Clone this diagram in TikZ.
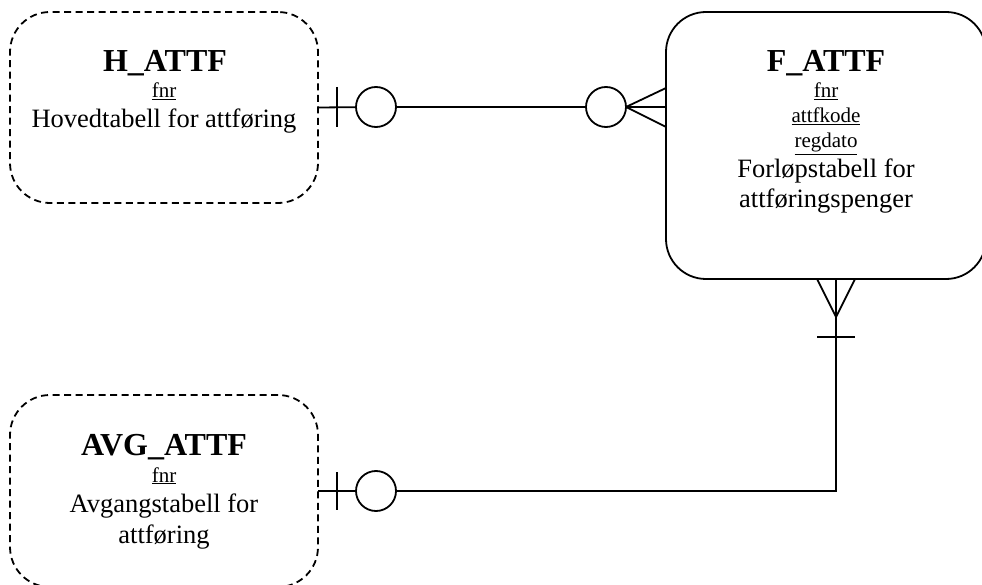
\documentclass[tikz,border=0pt]{standalone}
\usepackage{fontspec}
\setmainfont{Liberation Serif}
\begin{document}
\begin{tikzpicture}[x=1pt,y=-1pt,line width=1.8pt,
  entity/.style={draw,rectangle,rounded corners=40pt,outer sep=0pt,inner sep=0pt},
  weak/.style={entity,dash pattern=on 7pt off 4.5pt},
  circ/.style={draw,circle,minimum size=40pt,inner sep=0pt,outer sep=0pt,fill=white},
  ttl/.style={anchor=base,inner sep=0pt,font=\fontsize{32}{34}\selectfont\bfseries},
  key/.style={anchor=base,inner sep=0pt,font=\fontsize{21}{23}\selectfont},
  desc/.style={anchor=base,inner sep=0pt,font=\fontsize{26.5}{28}\selectfont}]
\useasboundingbox (0,0) rectangle (982,585);
% entities
\node[weak,minimum width=308pt,minimum height=191pt] (H) at (164,107.5) {};
\node[entity,minimum width=320pt,minimum height=267pt] (F) at (826,145.5) {};
\node[weak,minimum width=308pt,minimum height=192pt] (A) at (164,491) {};
% H_ATTF texts
\node[ttl] (Ht) at (165,72) {H\_ATTF};
\node[key] (Hk) at (164,98) {\underline{fnr}};
\node[desc] (Hd) at (164,128) {Hovedtabell for attføring};
% F_ATTF texts
\node[ttl] (Ft) at (826,72) {F\_ATTF};
\node[key] (Fk1) at (826,98) {\underline{fnr}};
\node[key] (Fk2) at (826,123) {\underline{attfkode}};
\node[key] (Fk3) at (826,148) {\underline{regdato}};
\node[desc] (Fd1) at (826,178) {Forløpstabell for};
\node[desc] (Fd2) at (826,208) {attføringspenger};
% AVG_ATTF texts
\node[ttl] (At) at (164,455) {AVG\_ATTF};
\node[key] (Ak) at (164,482) {\underline{fnr}};
\node[desc] (Ad1) at (164,512) {Avgangstabell for};
\node[desc] (Ad2) at (164,543) {attføring};
% H -- F connector
\node[circ] (c1) at (376,107) {};
\node[circ] (c2) at (606,107) {};
\draw (H.east) -- (c1);
\coordinate (b1t) at (337,87);
\coordinate (b1b) at (337,127);
\draw (b1t) -- (b1b);
\draw (c1) -- (c2);
\coordinate (p1) at (666,88);
\coordinate (p3) at (666,127);
\draw (c2.east) -- (c2.east -| F.west);
\draw (c2.east) -- (p1);
\draw (c2.east) -- (p3);
% F -- AVG connector
\coordinate (fb) at ([xshift=10pt]F.south);
\coordinate (fj) at (836,317);
\coordinate (q1) at (817,279);
\coordinate (q3) at (855,279);
\draw (q1) -- (fj) -- (q3);
\coordinate (b2l) at (817,337);
\coordinate (b2r) at (855,337);
\draw (b2l) -- (b2r);
\node[circ] (c3) at (376,491) {};
\draw (fb) |- (c3);
\draw (c3) -- (A.east);
\coordinate (b3t) at (337,472);
\coordinate (b3b) at (337,510);
\draw (b3t) -- (b3b);
\end{tikzpicture}
\end{document}
